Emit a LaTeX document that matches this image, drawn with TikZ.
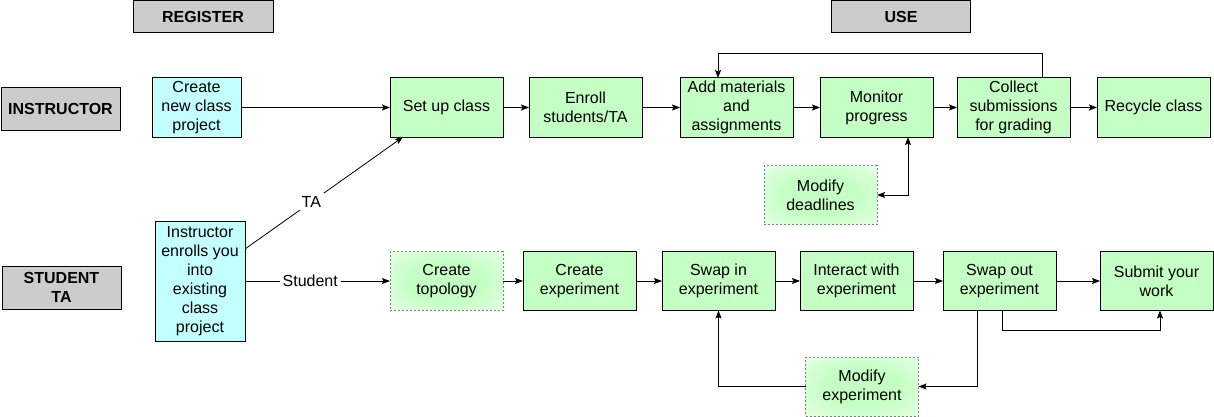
\documentclass[tikz,border=0pt]{standalone}
\usepackage{fontspec}
\setmainfont{Liberation Sans}
\definecolor{stepgreen}{RGB}{196,255,196}
\definecolor{usercyan}{RGB}{196,255,255}
\definecolor{rolegray}{RGB}{204,204,204}
\usetikzlibrary{positioning, arrows.meta}
\pgfdeclareradialshading{optglow}{\pgfpoint{0bp}{0bp}}{color(0bp)=(stepgreen); color(16bp)=(stepgreen); color(50bp)=(white)}

\begin{document}
\begin{tikzpicture}[x=1pt, y=-1pt,
        stepbox/.style={draw, line width=1pt, fill=stepgreen, minimum width=113pt,
                    minimum height=59pt, align=center, inner sep=2pt, outer sep=0pt,
                    font=\fontsize{16}{19}\selectfont},
        userbox/.style={stepbox, fill=usercyan},
        optbox/.style={stepbox, draw=gray, line width=0.8pt, dash pattern=on 2pt off 2pt,
                    fill=none, shading=optglow},
        rolebox/.style={stepbox, fill=rolegray, minimum width=119pt, minimum height=42pt,
                    font=\fontsize{16}{19}\selectfont\bfseries},
        phasebox/.style={rolebox, minimum width=140pt, minimum height=32pt},
        lbl/.style={fill=white, inner sep=3pt, font=\fontsize{16}{19}\selectfont},
        arr/.style={-{Stealth[length=8pt, width=6pt, inset=1.5pt]}, line width=0.8pt},
        arr2/.style={{Stealth[length=8pt, width=6pt, inset=1.5pt]}-{Stealth[length=8pt, width=6pt, inset=1.5pt]}, line width=0.8pt}
      ]
        \useasboundingbox (0,0) rectangle (1214,417);
        % phases and roles
        \node[phasebox] (register) at (203,17) {REGISTER};
        \node[phasebox, minimum width=139pt] (use) at (901,17) {USE};
        \node[rolebox] (instructor) at (60.5,109) {INSTRUCTOR};
        \node[rolebox, minimum height=43pt] (student) at (61.5,287.5) {STUDENT\\TA};
        % register
        \node[userbox, minimum width=89pt] (newclass) at (196.5,107.5) {Create\\new class\\project};
        \node[userbox, minimum width=90pt, minimum height=120pt] (enrollyou) at (200,281) {Instructor\\enrolls you\\into\\existing\\class\\project};
        % instructor row
        \node[stepbox] (setup) at (446.5,107.5) {Set up class};
        \node[stepbox, right=26pt of setup] (enrollta) {Enroll\\students/TA};
        \node[stepbox, right=38pt of enrollta] (addmat) {Add materials\\and\\assignments};
        \node[stepbox, right=27pt of addmat] (monitor) {Monitor\\progress};
        \node[stepbox, right=24pt of monitor] (collect) {Collect\\submissions\\for grading};
        \node[stepbox, right=27pt of collect] (recycle) {Recycle class};
        \node[optbox] (deadlines) at (820.5,195) {Modify\\deadlines};
        % student row
        \node[optbox] (topology) at (446.5,281) {Create\\topology};
        \node[stepbox, right=20pt of topology] (createexp) {Create\\experiment};
        \node[stepbox, right=26pt of createexp] (swapin) {Swap in\\experiment};
        \node[stepbox, right=25pt of swapin] (interact) {Interact with\\experiment};
        \node[stepbox, right=30pt of interact] (swapout) {Swap out\\experiment};
        \node[stepbox, right=44pt of swapout] (submit) {Submit your\\work};
        \node[optbox] (modexp) at (862,386.5) {Modify\\experiment};
        % connectors
        \draw[arr] (newclass) -- (setup);
        \draw[arr] ([yshift=32pt]enrollyou.east) -- node[lbl, pos=0.42] {TA} ([xshift=13pt]setup.south west);
        \draw[arr] (enrollyou.east) -- node[lbl, pos=0.45] {Student} (topology.west);
        \draw[arr] (setup) -- (enrollta);
        \draw[arr] (enrollta) -- (addmat);
        \draw[arr] (addmat) -- (monitor);
        \draw[arr] (monitor) -- (collect);
        \draw[arr] (collect) -- (recycle);
        \draw[arr] ([xshift=28.5pt]collect.north) -- ++(0,-25) -| ([xshift=-18.5pt]addmat.north);
        \draw[arr2] (deadlines.east) -| ([xshift=31.5pt]monitor.south);
        \draw[arr] (topology) -- (createexp);
        \draw[arr] (createexp) -- (swapin);
        \draw[arr] (swapin) -- (interact);
        \draw[arr] (interact) -- (swapout);
        \draw[arr] (swapout) -- (submit);
        \draw[arr] ([xshift=-22.5pt]swapout.south) |- (modexp.east);
        \draw[arr] (modexp.west) -| (swapin.south);
        \draw[arr] ([xshift=2.5pt]swapout.south) -- ++(0,20) -| ([xshift=3.5pt]submit.south);
      \end{tikzpicture}
\end{document}
